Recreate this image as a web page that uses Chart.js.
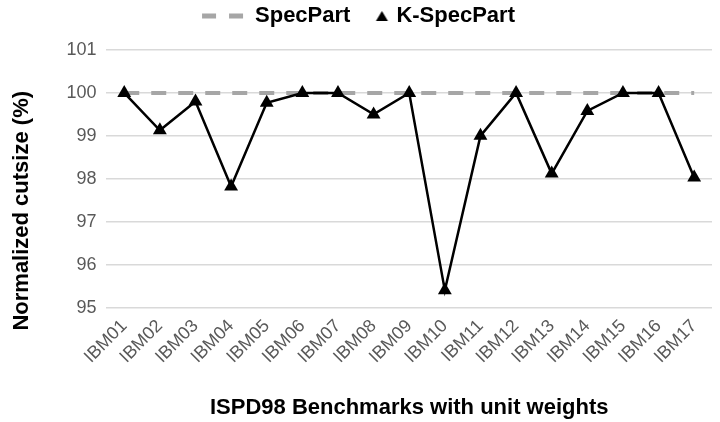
<!DOCTYPE html>
<html>
<head>
<meta charset="utf-8">
<script src="https://cdn.jsdelivr.net/npm/chart.js@4.4.1/dist/chart.umd.min.js"></script>
<style>
  html, body { margin: 0; padding: 0; background: #fff; }
  #wrap { width: 720px; height: 422px; }
</style>
</head>
<body>
<div id="wrap"><canvas id="c" width="720" height="422"></canvas></div>
<script>
// categories and series
const benchmarks = ["IBM01", "IBM02", "IBM03", "IBM04", "IBM05", "IBM06", "IBM07", "IBM08", "IBM09",
  "IBM10", "IBM11", "IBM12", "IBM13", "IBM14", "IBM15", "IBM16", "IBM17"];
const specPart = [100, 100, 100, 100, 100, 100, 100, 100, 100, 100, 100, 100, 100, 100, 100, 100, 100];
const kSpecPart = [100, 99.13, 99.8, 97.82, 99.77, 100, 100, 99.5, 100, 95.4, 99.0, 100, 98.12, 99.58, 100, 100, 98.03];
const yTicks = [95, 96, 97, 98, 99, 100, 101];

const GRID = "#d9d9d9";
const TICK = "#595959";
const DASH = "#a6a6a6";
const SANS = "'Liberation Sans', Arial, sans-serif";

// legend swatches as small canvases, drawn centred on each legend box
function dashSwatch() {
  const c = document.createElement("canvas");
  c.width = 60; c.height = 8;
  const g = c.getContext("2d");
  g.strokeStyle = DASH;
  g.lineWidth = 5;
  g.setLineDash([14, 13]);
  g.beginPath();
  g.moveTo(3, 4);
  g.lineTo(44, 4);
  g.stroke();
  return c;
}

function triSwatch() {
  const c = document.createElement("canvas");
  c.width = 40; c.height = 14;
  const g = c.getContext("2d");
  g.fillStyle = "#000";
  g.beginPath();
  g.moveTo(31.5, 2);
  g.lineTo(37.5, 12);
  g.lineTo(25.5, 12);
  g.closePath();
  g.fill();
  return c;
}

// nudge a component's drawing by a fixed offset
function shiftDraw(obj, method, dx, dy) {
  if (obj["_shift_" + method]) return;
  const orig = obj[method];
  obj[method] = function () {
    const ctx = this.ctx;
    ctx.save();
    ctx.translate(dx, dy);
    orig.apply(this, arguments);
    ctx.restore();
  };
  obj["_shift_" + method] = true;
}

const layoutTweaks = {
  id: "layoutTweaks",
  beforeInit(chart) {
    const fit = chart.legend.fit;
    chart.legend.fit = function () {
      fit.bind(chart.legend)();
      this.height += 13;
    };
  },
  beforeDraw(chart) {
    shiftDraw(chart.scales.y, "drawTitle", 0, 32);
    shiftDraw(chart.legend, "draw", 7, 0);
  },
};

new Chart(document.getElementById("c"), {
  type: "line",
  data: {
    labels: benchmarks,
    datasets: [
      {
        label: "SpecPart",
        data: specPart,
        borderColor: DASH,
        backgroundColor: DASH,
        borderWidth: 4,
        borderDash: [15, 12],
        pointRadius: 0,
        pointHoverRadius: 0,
        tension: 0,
        order: 1,
      },
      {
        label: "K-SpecPart",
        data: kSpecPart,
        borderColor: "#000",
        backgroundColor: "#000",
        borderWidth: 2.5,
        pointStyle: "triangle",
        pointRadius: 8,
        pointHoverRadius: 8,
        pointBackgroundColor: "#000",
        pointBorderColor: "#000",
        pointBorderWidth: 0,
        tension: 0,
        order: 0,
      },
    ],
  },
  options: {
    responsive: false,
    animation: false,
    devicePixelRatio: 1,
    layout: { padding: { top: 0, right: 5, bottom: 1, left: 0 } },
    plugins: {
      tooltip: { enabled: false },
      legend: {
        position: "top",
        labels: {
          usePointStyle: true,
          pointStyleWidth: 30,
          boxHeight: 12,
          padding: 5,
          color: "#000",
          font: { family: SANS, size: 22, weight: "bold" },
          sort: (a, b) => a.datasetIndex - b.datasetIndex,
          generateLabels(chart) {
            const items = Chart.defaults.plugins.legend.labels.generateLabels(chart);
            items.forEach((it) => {
              it.pointStyle = it.datasetIndex === 0 ? dashSwatch() : triSwatch();
              it.lineWidth = 0;
            });
            return items;
          },
        },
      },
    },
    scales: {
      x: {
        offset: true,
        grid: { display: false },
        border: { display: false },
        ticks: {
          color: TICK,
          font: { family: SANS, size: 18 },
          minRotation: 45,
          maxRotation: 45,
          padding: 0,
          autoSkip: false,
        },
        title: {
          display: true,
          text: "ISPD98 Benchmarks with unit weights",
          color: "#000",
          font: { family: SANS, size: 22, weight: "bold" },
          padding: { top: 27, bottom: 0 },
        },
      },
      y: {
        min: yTicks[0],
        max: yTicks[yTicks.length - 1],
        afterBuildTicks: (axis) => { axis.ticks = yTicks.map((v) => ({ value: v })); },
        grid: { color: GRID, lineWidth: 1.5, drawTicks: false },
        border: { display: false },
        ticks: {
          color: TICK,
          font: { family: SANS, size: 18 },
          padding: 10,
        },
        title: {
          display: true,
          text: "Normalized cutsize (%)",
          color: "#000",
          font: { family: SANS, size: 22, weight: "bold" },
          padding: { top: 9, bottom: 21 },
        },
      },
    },
  },
  plugins: [layoutTweaks],
});
</script>
</body>
</html>
